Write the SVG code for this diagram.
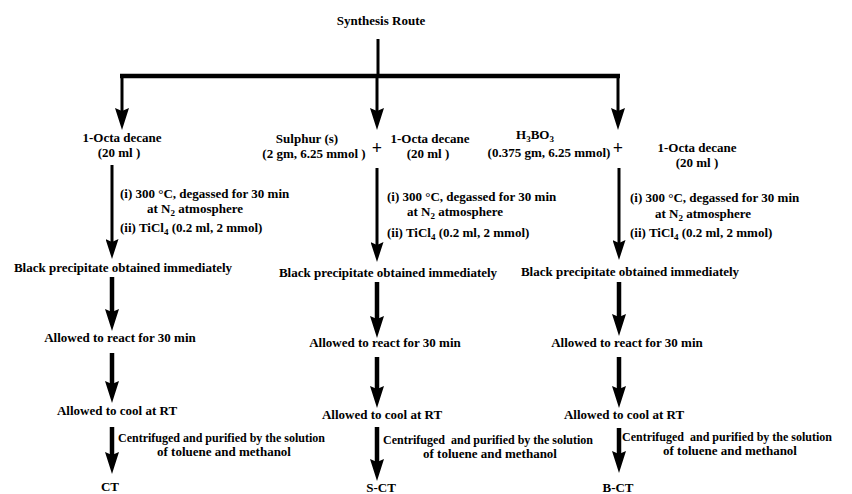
<svg xmlns="http://www.w3.org/2000/svg" width="852" height="494" viewBox="0 0 852 494">
<style>
text{font-family:"Liberation Serif","Times New Roman",serif;font-weight:bold;font-size:13px;fill:#000}
.c{text-anchor:middle}
.s{font-size:9px}
.pre{white-space:pre}
.plus{font-size:18px}
.p1{font-size:12px}
.ln{stroke:#000;fill:none}
.thin{stroke-width:3}
.thick{stroke-width:4.5}
</style>
<defs>
<marker id="ah" markerUnits="userSpaceOnUse" markerWidth="22" markerHeight="14" refX="10" refY="7" orient="auto">
<path d="M0,0 L22,7 L0,14 L3,7 z" fill="#000"/>
</marker>
<marker id="ah2" markerUnits="userSpaceOnUse" markerWidth="20" markerHeight="13" refX="9" refY="6.5" orient="auto">
<path d="M0,0 L20,6.5 L0,13 L3,6.5 z" fill="#000"/>
</marker>
</defs>
<rect width="852" height="494" fill="#fff"/>

<g id="connectors">
<line class="ln thin" x1="378" y1="39" x2="378" y2="76"/>
<line class="ln thick" x1="120" y1="76" x2="620" y2="76"/>
<line class="ln thin" x1="122" y1="76" x2="122" y2="118" marker-end="url(#ah)"/>
<line class="ln thin" x1="377" y1="76" x2="377" y2="118" marker-end="url(#ah)"/>
<line class="ln thin" x1="618" y1="76" x2="618" y2="118" marker-end="url(#ah)"/>

<line class="ln thin" x1="112" y1="165" x2="112" y2="248" marker-end="url(#ah2)"/>
<line class="ln thick" x1="112" y1="277" x2="112" y2="319" marker-end="url(#ah)"/>
<line class="ln thick" x1="112" y1="353" x2="112" y2="391" marker-end="url(#ah)"/>
<line class="ln thick" x1="112" y1="427" x2="112" y2="462" marker-end="url(#ah)"/>

<line class="ln thin" x1="377" y1="168" x2="377" y2="251" marker-end="url(#ah2)"/>
<line class="ln thick" x1="377" y1="282" x2="377" y2="326" marker-end="url(#ah)"/>
<line class="ln thick" x1="377" y1="357" x2="377" y2="396" marker-end="url(#ah)"/>
<line class="ln thick" x1="377" y1="427" x2="377" y2="469" marker-end="url(#ah)"/>

<line class="ln thin" x1="619" y1="168" x2="619" y2="249" marker-end="url(#ah2)"/>
<line class="ln thick" x1="619" y1="282" x2="619" y2="324" marker-end="url(#ah)"/>
<line class="ln thick" x1="619" y1="357" x2="619" y2="396" marker-end="url(#ah)"/>
<line class="ln thick" x1="619" y1="428" x2="619" y2="461" marker-end="url(#ah)"/>
</g>

<g id="title"><text class="c" x="381" y="25">Synthesis Route</text></g>

<g id="left-start">
<text class="c" x="122" y="142">1-Octa decane</text>
<text class="c pre" x="119" y="157">(20 ml )</text>
</g>
<g id="left-cond">
<text x="120" y="198">(i) 300 °C, degassed for 30 min</text>
<text x="147" y="213">at N<tspan class="s" dy="3">2</tspan><tspan dy="-3"> atmosphere</tspan></text>
<text x="120" y="232">(ii) TiCl<tspan class="s" dy="3">4</tspan><tspan dy="-3"> (0.2 ml, 2 mmol)</tspan></text>
</g>
<g id="left-precip"><text class="c" x="123" y="272">Black precipitate obtained immediately</text></g>
<g id="left-react"><text class="c" x="120" y="342">Allowed to react for 30 min</text></g>
<g id="left-cool"><text class="c" x="117" y="415">Allowed to cool at RT</text></g>
<g id="left-purify">
<text class="p1" x="118" y="442">Centrifuged and purified by the solution</text>
<text x="157" y="456">of toluene and methanol</text>
</g>
<g id="left-product"><text class="c" x="110" y="491">CT</text></g>

<g id="mid-start">
<text class="c" x="307" y="143">Sulphur (s)</text>
<text class="c pre" x="314" y="158">(2 gm, 6.25 mmol )</text>
<text class="c plus" x="377" y="154">+</text>
<text class="c" x="430" y="143">1-Octa decane</text>
<text class="c pre" x="428" y="158">(20 ml )</text>
</g>
<g id="mid-cond">
<text x="387" y="201">(i) 300 °C, degassed for 30 min</text>
<text x="407" y="216">at N<tspan class="s" dy="3">2</tspan><tspan dy="-3"> atmosphere</tspan></text>
<text x="387" y="237">(ii) TiCl<tspan class="s" dy="3">4</tspan><tspan dy="-3"> (0.2 ml, 2 mmol)</tspan></text>
</g>
<g id="mid-precip"><text class="c" x="388" y="277">Black precipitate obtained immediately</text></g>
<g id="mid-react"><text class="c" x="385" y="347">Allowed to react for 30 min</text></g>
<g id="mid-cool"><text class="c" x="382" y="419">Allowed to cool at RT</text></g>
<g id="mid-purify">
<text class="pre p1" x="383" y="444">Centrifuged  and purified by the solution</text>
<text x="423" y="458">of toluene and methanol</text>
</g>
<g id="mid-product"><text class="c" x="381" y="492">S-CT</text></g>

<g id="right-start">
<text class="c" x="535" y="139">H<tspan class="s" dy="3">3</tspan><tspan dy="-3">BO</tspan><tspan class="s" dy="3">3</tspan></text>
<text class="c" x="549" y="157">(0.375 gm, 6.25 mmol)</text>
<text class="c plus" x="618" y="154">+</text>
<text class="c" x="697" y="152">1-Octa decane</text>
<text class="c pre" x="697" y="167">(20 ml )</text>
</g>
<g id="right-cond">
<text x="630" y="202">(i) 300 °C, degassed for 30 min</text>
<text x="655" y="218">at N<tspan class="s" dy="3">2</tspan><tspan dy="-3"> atmosphere</tspan></text>
<text x="630" y="237">(ii) TiCl<tspan class="s" dy="3">4</tspan><tspan dy="-3"> (0.2 ml, 2 mmol)</tspan></text>
</g>
<g id="right-precip"><text class="c" x="630" y="276">Black precipitate obtained immediately</text></g>
<g id="right-react"><text class="c" x="627" y="347">Allowed to react for 30 min</text></g>
<g id="right-cool"><text class="c" x="624" y="419">Allowed to cool at RT</text></g>
<g id="right-purify">
<text class="pre p1" x="622" y="441">Centrifuged  and purified by the solution</text>
<text x="663" y="455">of toluene and methanol</text>
</g>
<g id="right-product"><text class="c" x="618" y="492">B-CT</text></g>
</svg>
